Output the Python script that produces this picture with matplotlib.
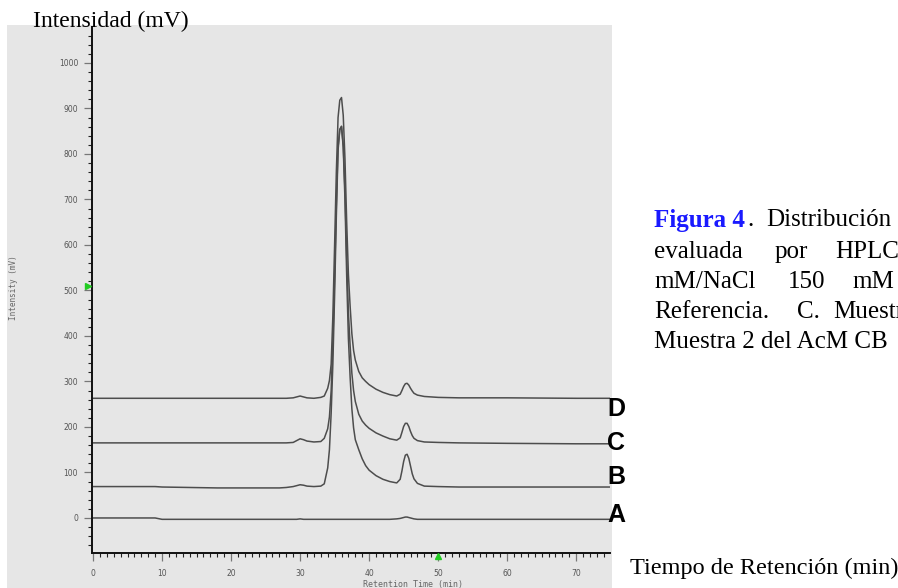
import matplotlib
matplotlib.use("Agg")
import matplotlib.pyplot as plt
from matplotlib.patches import Rectangle
from matplotlib.ticker import MultipleLocator

W, H = 898, 588

# Retention time grid (min)
t = [0, 9, 10, 18, 27, 28, 29, 29.5, 30, 30.5,
     31, 32, 33, 33.5, 34, 34.25, 34.5, 34.75, 35, 35.25,
     35.5, 35.75, 36, 36.25, 36.5, 36.75, 37, 37.25, 37.5, 37.75,
     38, 38.5, 39, 39.5, 40, 41, 42, 43, 44, 44.5,
     44.75, 45, 45.25, 45.5, 45.75, 46, 46.25, 46.5, 47, 48,
     50, 53, 60, 70, 75]

# Intensity (mV) per chromatogram
trace_A = [0, 0, -3, -3, -3, -3, -3, -3, -2, -3,
           -3, -3, -3, -3, -3, -3, -3, -3, -3, -3,
           -3, -3, -3, -3, -3, -3, -3, -3, -3, -3,
           -3, -3, -3, -3, -3, -3, -3, -3, -2, -1,
           0, 1, 2, 2, 1, 0, -1, -2, -3, -3,
           -3, -3, -3, -3, -3]
trace_B = [69, 69, 68, 66, 66, 67, 69, 71, 73, 72,
           70, 69, 70, 75, 110, 150, 230, 340, 490, 663,
           808, 853, 860, 814, 700, 532, 394, 309, 240, 198,
           172, 150, 130, 115, 105, 93, 85, 80, 77, 85,
           103, 124, 138, 140, 131, 114, 97, 86, 76, 70,
           69, 68, 68, 68, 68]
trace_C = [165, 165, 165, 165, 165, 165, 166, 170, 174, 172,
           169, 167, 168, 175, 196, 222, 280, 390, 530, 688,
           815, 854, 861, 820, 720, 573, 451, 378, 318, 280,
           256, 228, 213, 204, 197, 187, 180, 174, 171, 176,
           188, 201, 208, 208, 201, 190, 181, 175, 170, 167,
           166, 165, 164, 163, 163]
trace_D = [263, 263, 263, 263, 263, 263, 264, 266, 268, 266,
           264, 263, 265, 268, 285, 302, 338, 445, 600, 760,
           880, 918, 924, 885, 790, 650, 535, 465, 405, 368,
           347, 322, 308, 300, 293, 283, 276, 271, 268, 272,
           280, 289, 295, 296, 292, 285, 279, 274, 270, 267,
           265, 264, 264, 263, 263]

traces = [trace_A, trace_B, trace_C, trace_D]
trace_labels = ["A", "B", "C", "D"]
label_y_px = [515, 477, 443, 409]

x_ticks = [0, 10, 20, 30, 40, 50, 60, 70]
y_ticks = [0, 100, 200, 300, 400, 500, 600, 700, 800, 900, 1000]

fig = plt.figure(figsize=(W / 100, H / 100), dpi=100)
fig.patch.set_facecolor("white")

# gray panel of the instrument screenshot
fig.patches.append(Rectangle((7 / W, 0), (612 - 7) / W, 1 - 25 / H,
                             transform=fig.transFigure, facecolor="#e6e6e6",
                             edgecolor="none", zorder=-5))

ax = fig.add_axes([92 / W, 35 / H, (610 - 92) / W, (553 - 27) / H])
ax.set_zorder(1)
ax.set_facecolor("#e6e6e6")
ax.set_xlim(-0.15, 74.9)
ax.set_ylim(-77, 1079)

for tr in traces:
    ax.plot(t, tr, color="#4d4d4d", lw=1.1, solid_joinstyle="round")

for s in ["top", "right"]:
    ax.spines[s].set_visible(False)
for s in ["left", "bottom"]:
    ax.spines[s].set_color("#111111")
    ax.spines[s].set_linewidth(1.4)

ax.set_xticks(x_ticks)
ax.set_yticks(y_ticks)
ax.xaxis.set_minor_locator(MultipleLocator(1))
ax.yaxis.set_minor_locator(MultipleLocator(20))
ax.tick_params(axis="both", which="major", length=6, width=0.9, color="#777777",
               labelsize=5.5, labelcolor="#555555", pad=4)
ax.tick_params(axis="both", which="minor", length=3, width=0.8, color="#222222")
ax.tick_params(axis="x", which="major", pad=5.5)

# green markers
ax.plot([-0.7], [510], marker=">", color="#22cc22", ms=5, clip_on=False, zorder=5)
ax.plot([50], [-84], marker="^", color="#22cc22", ms=5, clip_on=False, zorder=5)

# instrument axis titles
fig.text(14 / W, 1 - 288 / H, "Intensity (mV)", rotation=90, ha="center", va="center",
         fontsize=5.5, color="#666666", family="DejaVu Sans Mono", zorder=3)
fig.text(413 / W, 1 - 584 / H, "Retention Time (min)", ha="center", va="center",
         fontsize=6, color="#666666", family="DejaVu Sans Mono", zorder=3)

# trace labels
for lab, ypx in zip(trace_labels, label_y_px):
    fig.text(607 / W, 1 - ypx / H, lab, ha="left", va="center", fontsize=18,
             fontweight="bold", family="Liberation Sans", color="black", zorder=3)

serif = "Liberation Serif"
fig.text(33 / W, 1 - 27 / H, "Intensidad (mV)", ha="left", va="baseline",
         fontsize=17, family=serif, color="black", zorder=3)
fig.text(630 / W, 1 - 568 / H, "Tiempo de Retención (min)", ha="left", va="center",
         fontsize=17.5, family=serif, color="black", zorder=3)

# caption (justified lines, cropped at the right edge like the source page)
cap_fs = 18
def ctext(xpx, ypx, s, **kw):
    fig.text(xpx / W, 1 - ypx / H, s, ha="left", va="center", fontsize=cap_fs,
             family=serif, zorder=3, **kw)

ctext(654, 220, "Figura 4", color="#1a1aff", fontweight="bold")
ctext(747, 220, ".", color="black")
ctext(766, 220, "Distribución", color="black")
ctext(654, 252, "evaluada", color="black")
ctext(775, 252, "por", color="black")
ctext(835, 252, "HPLC", color="black")
ctext(654, 282, "mM/NaCl", color="black")
ctext(788, 282, "150", color="black")
ctext(852, 282, "mM", color="black")
ctext(654, 312, "Referencia.", color="black")
ctext(797, 312, "C.", color="black")
ctext(833, 312, "Muestra", color="black")
ctext(654, 342, "Muestra 2 del AcM CB", color="black")

fig.savefig("out.png", dpi=100)
